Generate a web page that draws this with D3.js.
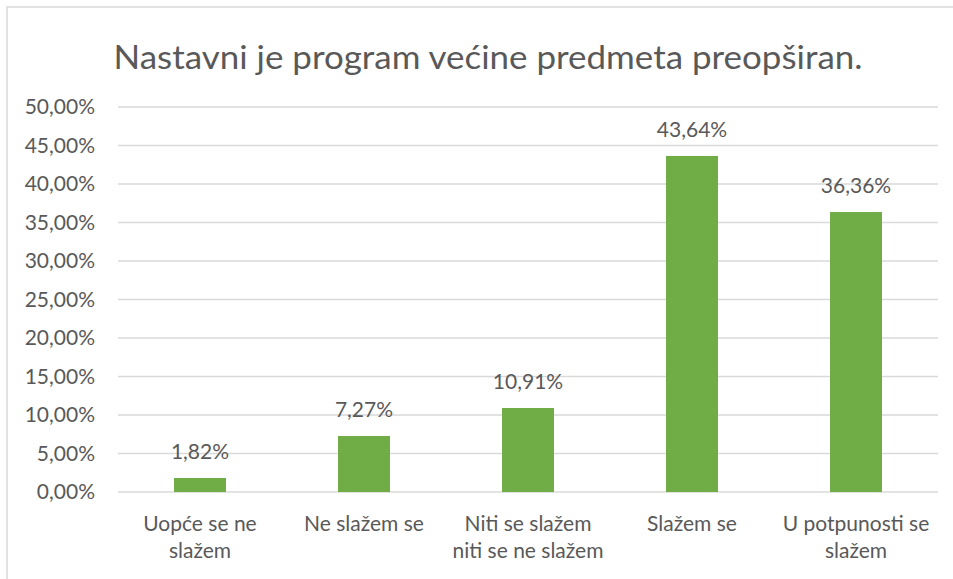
<!DOCTYPE html>
<html>
<head>
<meta charset="utf-8">
<script src="https://cdn.jsdelivr.net/npm/d3@7"></script>
<style>
  body { margin: 0; background: #fff; }
  text { font-family: Lato, "Open Sans", sans-serif; fill: #595959; }
</style>
</head>
<body>
<svg></svg>
<script>
const width = 953;
const height = 579;

const title = "Nastavni je program većine predmeta preopširan.";
const categories = [
    ["Uopće se ne", "slažem"],
    ["Ne slažem se"],
    ["Niti se slažem", "niti se ne slažem"],
    ["Slažem se"],
    ["U potpunosti se", "slažem"]
];
const values = [1.82, 7.27, 10.91, 43.64, 36.36];
const yTicks = [0, 5, 10, 15, 20, 25, 30, 35, 40, 45, 50];

const margin = { left: 118, right: 15, top: 107, bottom: 87 };

let svg = d3.select("svg").attr("width", width).attr("height", height);

// chart frame (right and bottom fall outside the picture)
svg.append("path")
    .attr("d", `M7,${height} L7,7 L${width},7`)
    .attr("fill", "none").attr("stroke", "#d9d9d9").attr("stroke-width", 1.5);

const x = d3.scaleBand()
    .domain(d3.range(values.length))
    .range([margin.left, width - margin.right])
    .paddingInner(0.683).paddingOuter(0.3415);

const y = d3.scaleLinear().domain([0, 50]).range([height - margin.bottom, margin.top]);

const fmt = v => v.toFixed(2).replace(".", ",") + "%";

// grid
svg.append("g").selectAll("line").data(yTicks).join("line")
    .attr("x1", margin.left).attr("x2", width - margin.right)
    .attr("y1", d => y(d)).attr("y2", d => y(d))
    .attr("stroke", "#d9d9d9").attr("stroke-width", 1.5);

// y labels
svg.append("g").selectAll("text").data(yTicks).join("text")
    .attr("x", 95).attr("y", d => y(d)).attr("dy", "0.35em")
    .attr("text-anchor", "end").attr("font-size", 21)
    .text(d => fmt(d));

// bars
svg.append("g").selectAll("rect").data(values).join("rect")
    .attr("x", (d, i) => x(i)).attr("width", x.bandwidth())
    .attr("y", d => y(d)).attr("height", d => y(0) - y(d))
    .attr("fill", "#70ad47");

// value labels
svg.append("g").selectAll("text").data(values).join("text")
    .attr("x", (d, i) => x(i) + x.bandwidth() / 2)
    .attr("y", d => y(d) - 19)
    .attr("text-anchor", "middle").attr("font-size", 21)
    .text(d => fmt(d));

// category labels
let cat = svg.append("g").selectAll("text").data(categories).join("text")
    .attr("x", (d, i) => x(i) + x.bandwidth() / 2)
    .attr("y", 531)
    .attr("text-anchor", "middle").attr("font-size", 21);
cat.selectAll("tspan").data(d => d).join("tspan")
    .attr("x", function () { return this.parentNode.getAttribute("x"); })
    .attr("dy", (d, i) => i === 0 ? 0 : 27)
    .text(d => d);

// title
svg.append("text")
    .attr("x", 488).attr("y", 69)
    .attr("text-anchor", "middle").attr("font-size", 33)
    .attr("textLength", 749).attr("lengthAdjust", "spacingAndGlyphs")
    .text(title);
</script>
</body>
</html>
